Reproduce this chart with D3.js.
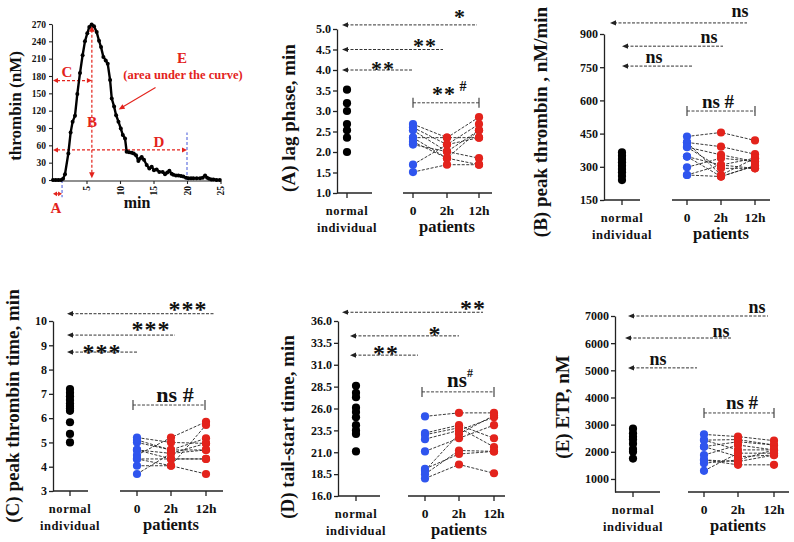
<!DOCTYPE html>
<html><head><meta charset="utf-8">
<script src="https://cdn.jsdelivr.net/npm/d3@7"></script>
<style>
body{margin:0;background:#fff}
text{font-family:"Liberation Serif","Times New Roman",serif;font-weight:bold}
</style>
</head><body>
<svg id="c" width="794" height="542"></svg>
<script>
// ---------- DATA ----------
// thrombin generation curve
const curveTime = [0,0.4,0.8,1.2,1.5,1.79,2.29,2.63,2.93,3.28,
  3.63,4.03,4.42,4.77,5.12,5.42,5.77,6.12,6.52,6.87,
  7.17,7.52,7.87,8.17,8.52,8.77,9.12,9.42,9.77,10.12,
  10.42,10.75,10.99,11.35,11.74,12.05,12.39,12.74,13.0,13.24,
  13.58,13.98,14.38,14.73,15.07,15.47,15.87,16.37,16.72,17.05,
  17.37,17.7,17.96,18.35,18.71,19.1,19.45,19.85,20.2,20.6,
  20.95,21.45,21.95,22.35,22.7,23.0,23.3,23.65,23.95,24.4,24.9];
const curveThrombin = [0,0,0,0,2,10,46,82,101,111,
  149,185,216,240,254,265,269,266,256,241,
  230,213,207,201,173,141,127,112,101,89,
  78,72,49,48,47,46,43,33,37,40,
  35,26,20,23,17,18,14,14,10,13,
  16,11,9,8,8,7,6,4,3,3,
  3,3,3,4,8,4,2,1,1,0,0];
const curveXTicks = [5,10,15,20,25];
const curveYTicks = [0,30,60,90,120,150,180,210,240,270];

const groups = ["normal","0","2h","12h"];

// (A) lag phase, min
const lagTicks = [1.0,1.5,2.0,2.5,3.0,3.5,4.0,4.5,5.0];
const lagNormal = [3.52,3.19,3.0,2.68,2.53,2.35,2.0];
const lag0   = [2.68,2.6,2.53,2.35,2.35,2.18,1.69,1.51,2.25];
const lag2h  = [2.35,2.18,2.01,2.35,1.85,2.01,2.18,1.69,1.85];
const lag12h = [2.85,2.68,1.85,2.35,1.69,2.53,2.35,1.69,2.53];

// (B) peak thrombin, nM/min
const peakTicks = [150,300,450,600,750,900];
const peakNormal = [365,350,335,320,305,290,275,258,240];
const peak0   = [437,410,410,389,389,346,346,298,263,263];
const peak2h  = [455,391,263,354,293,308,256,339,308,256];
const peak12h = [419,357,339,324,293,339,305,324,293,305];

// (C) peak thrombin time, min
const ptTicks = [3,4,5,6,7,8,9,10];
const ptNormal = [7.2,7.05,6.9,6.75,6.6,6.5,6.4,6.3,5.83,5.35,5.0];
const pt0   = [5.2,5.0,4.69,4.69,4.48,4.32,4.32,4.04,3.7,5.1];
const pt2h  = [5.0,4.69,4.55,4.32,5.2,4.32,4.04,4.04,4.55,4.69];
const pt12h = [4.96,5.17,4.69,4.32,5.85,4.32,3.7,5.72,4.96,4.69];

// (D) tail-start time, min
const tsTicks = [16.0,18.5,21.0,23.5,26.0,28.5,31.0,33.5,36.0];
const tsNormal = [28.6,27.8,27.3,26.1,25.6,25.0,24.1,23.5,23.1,21.1];
const ts0   = [25.1,23.2,23.0,22.5,21.1,19.1,18.9,18.5,18.0];
const ts2h  = [25.5,24.1,23.8,23.5,22.6,20.8,23.1,21.2,19.6];
const ts12h = [25.5,22.6,21.6,25.0,24.1,21.1,25.2,21.1,18.6];

// (E) ETP, nM
const etpTicks = [1000,2000,3000,4000,5000,6000,7000];
const etpNormal = [2850,2680,2550,2450,2300,2100,2000,1750];
const etp0   = [2640,2430,2430,2190,2190,1880,1700,1700,1580,1300];
const etp2h  = [2560,2450,2070,2370,1820,2250,1640,1520,1700,1950];
const etp12h = [2410,2250,2070,2250,1880,2070,1880,1520,2070,1950];

// ---------- DRAW ----------
const svg = d3.select("#c");
const RED = "#e3231c", BLUE = "#2f55ee", AX = "#222";

function tri(g,x,y,ang,len,hw,color){
  const bx=x-len*Math.cos(ang), by=y-len*Math.sin(ang);
  const px=-Math.sin(ang)*hw, py=Math.cos(ang)*hw;
  g.append("path").attr("d",`M${x},${y}L${bx+px},${by+py}L${bx-px},${by-py}Z`).attr("fill",color);
}

// ===== Panel 1: thrombin curve =====
(function(){
  const g = svg.append("g");
  const x = d3.scaleLinear().domain([0,25]).range([53,220.5]);
  const y = d3.scaleLinear().domain([0,270]).range([180,24]);
  const ya = g.append("g").attr("transform","translate(52,0)")
    .call(d3.axisLeft(y).tickValues(curveYTicks).tickSize(3).tickSizeOuter(0));
  ya.selectAll("text").attr("font-size","9.5px").attr("fill","#111");
  const xa = g.append("g").attr("transform","translate(0,181)")
    .call(d3.axisBottom(x).tickValues(curveXTicks).tickSize(3).tickSizeOuter(0));
  xa.select(".domain").attr("d","M52,0H221");
  xa.selectAll("text").attr("font-size","9.5px").attr("fill","#111")
    .attr("transform","rotate(-90)").attr("text-anchor","end").attr("x",-5).attr("y",0).attr("dy","0.35em");
  [ya,xa].forEach(a=>{a.selectAll("path,line").attr("stroke",AX).attr("stroke-width",1.1);});

  // annotations (under curve)
  const an = g.append("g");
  const dash = "3,2";
  // C
  an.append("line").attr("x1",x(0)+4).attr("x2",x(5.8)-4).attr("y1",y(172)).attr("y2",y(172))
    .attr("stroke",RED).attr("stroke-width",1.2).attr("stroke-dasharray",dash);
  tri(an,x(0),y(172),Math.PI,5,2.5,RED); tri(an,x(5.8),y(172),0,5,2.5,RED);
  // B
  an.append("line").attr("x1",x(5.8)).attr("x2",x(5.8)).attr("y1",y(267)+4).attr("y2",y(3)-4)
    .attr("stroke",RED).attr("stroke-width",1.2).attr("stroke-dasharray",dash);
  tri(an,x(5.8),y(267),-Math.PI/2,6,2.8,RED); tri(an,x(5.8),y(3),Math.PI/2,6,2.8,RED);
  // D
  an.append("line").attr("x1",x(0)+4).attr("x2",x(20)-4).attr("y1",y(52)).attr("y2",y(52))
    .attr("stroke",RED).attr("stroke-width",1.2).attr("stroke-dasharray",dash);
  tri(an,x(0),y(52),Math.PI,5,2.5,RED); tri(an,x(20),y(52),0,5,2.5,RED);
  // blue markers
  an.append("line").attr("x1",x(20)).attr("x2",x(20)).attr("y1",y(0)).attr("y2",y(82))
    .attr("stroke","#5566dd").attr("stroke-width",1.1).attr("stroke-dasharray","3,2");
  an.append("line").attr("x1",x(1.35)).attr("x2",x(1.35)).attr("y1",y(0)).attr("y2",y(-30))
    .attr("stroke","#5566dd").attr("stroke-width",1.1).attr("stroke-dasharray","3,2");
  // A
  an.append("line").attr("x1",x(0)+3).attr("x2",x(1.35)-3).attr("y1",y(-24)).attr("y2",y(-24))
    .attr("stroke",RED).attr("stroke-width",1.2).attr("stroke-dasharray","2,1.5");
  tri(an,x(0),y(-24),Math.PI,4,2.3,RED); tri(an,x(1.35),y(-24),0,4,2.3,RED);
  // E arrow
  an.append("line").attr("x1",x(15.3)).attr("y1",y(160)).attr("x2",x(9.8)+4).attr("y2",y(122)-2.5)
    .attr("stroke",RED).attr("stroke-width",1.1);
  tri(an,x(9.8),y(122),Math.atan2(y(122)-y(160),x(9.8)-x(15.3)),6,2.6,RED);

  // curve
  const pts = curveTime.map((t,i)=>[t,curveThrombin[i]]);
  g.append("path").attr("d",d3.line().x(d=>x(d[0])).y(d=>y(d[1]))(pts))
    .attr("fill","none").attr("stroke","#000").attr("stroke-width",2.4).attr("stroke-linejoin","round");
  g.selectAll("circle.cp").data(pts).join("circle").attr("class","cp")
    .attr("cx",d=>x(d[0])).attr("cy",d=>y(d[1])).attr("r",2).attr("fill","#000");

  // labels
  const lab = (t,px,py,fs,col,anchor)=>g.append("text").text(t).attr("x",px).attr("y",py)
    .attr("font-size",fs+"px").attr("fill",col||"#111").attr("text-anchor",anchor||"middle");
  lab("C",67,77,15,RED); lab("B",92,127,15,RED); lab("D",159,147,15,RED); lab("A",56,213,15,RED);
  lab("E",182,63,15,RED); lab("(area under the curve)",183,79,12.5,RED);
  lab("min",137,208,16);
  g.append("text").text("thrombin (nM)").attr("transform","translate(15,106) rotate(-90)")
    .attr("text-anchor","middle").attr("dy","0.35em").attr("font-size","17px").attr("fill","#111");
})();

// ===== scatter panels =====
function panel(o){
  const g = svg.append("g");
  const y = d3.scaleLinear().domain(o.yDomain).range([o.yBottom,o.yTop]);
  const x = d3.scaleOrdinal().domain(groups).range(o.xPos);
  const base = o.yBottom;

  const ya = g.append("g").attr("transform",`translate(${o.axisX},0)`)
    .call(d3.axisLeft(y).tickValues(o.ticks).tickFormat(d3.format(o.fmt)).tickSize(4).tickSizeOuter(0));
  ya.selectAll("path,line").attr("stroke",AX).attr("stroke-width",1.3);
  ya.selectAll("text").attr("font-size","12px").attr("fill","#111").attr("x",-6);

  // broken x axis
  const xa = g.append("g");
  xa.append("line").attr("x1",o.axisX).attr("x2",o.nEnd).attr("y1",base).attr("y2",base);
  xa.append("line").attr("x1",o.pStart).attr("x2",o.pEnd).attr("y1",base).attr("y2",base);
  xa.selectAll("line.tk").data(groups).join("line").attr("class","tk")
    .attr("x1",d=>x(d)).attr("x2",d=>x(d)).attr("y1",base).attr("y2",base+5);
  xa.selectAll("line").attr("stroke",AX).attr("stroke-width",1.3);

  g.append("text").text("normal").attr("x",x("normal")).attr("y",base+22).attr("text-anchor","middle")
    .attr("font-size","12.5px").attr("fill","#111").attr("letter-spacing","0.6px");
  g.append("text").text("individual").attr("x",x("normal")).attr("y",base+39).attr("text-anchor","middle")
    .attr("font-size","12.5px").attr("fill","#111").attr("letter-spacing","0.6px");
  g.selectAll("text.gl").data(groups.slice(1)).join("text").attr("class","gl").text(d=>d)
    .attr("x",d=>x(d)).attr("y",base+22).attr("text-anchor","middle").attr("font-size","13.5px").attr("fill","#111");
  g.append("text").text("patients").attr("x",x("2h")).attr("y",base+39).attr("text-anchor","middle")
    .attr("font-size","16.5px").attr("fill","#111");

  // y title
  g.append("text").text(o.title).attr("transform",`translate(${o.tx},${o.ty}) rotate(-90)`)
    .attr("text-anchor","middle").attr("dy","0.35em").attr("font-size",(o.tfs||19)+"px").attr("fill","#111");

  // significance arrows
  o.sig.forEach(s=>{
    const yy = y(s.v);
    g.append("line").attr("x1",s.x1+4).attr("x2",s.x2).attr("y1",yy).attr("y2",yy)
      .attr("stroke","#333").attr("stroke-width",1).attr("stroke-dasharray","3,1.5");
    tri(g,s.x1,yy,Math.PI,6,2.6,"#222");
    g.append("text").text(s.t).attr("x",s.lx).attr("y",s.ly).attr("text-anchor","middle")
      .attr("font-size",s.fs+"px").attr("fill","#111").attr("letter-spacing",s.t[0]==="*"?"1px":"0");
  });

  // bracket
  const b = o.br, by = y(b.v);
  g.append("line").attr("x1",b.x1).attr("x2",b.x2).attr("y1",by).attr("y2",by)
    .attr("stroke","#444").attr("stroke-width",1).attr("stroke-dasharray","3,1.5");
  [b.x1,b.x2].forEach(xx=>g.append("line").attr("x1",xx).attr("x2",xx).attr("y1",by-5).attr("y2",by+5)
    .attr("stroke","#444").attr("stroke-width",1.2));
  g.append("text").text(b.t).attr("x",b.lx).attr("y",b.ly).attr("text-anchor","middle")
    .attr("font-size",b.fs+"px").attr("fill","#111").attr("letter-spacing",b.t[0]==="*"?"1px":"0");
  if(b.sup) g.append("text").text(b.sup).attr("x",b.sx).attr("y",b.sy).attr("text-anchor","middle")
    .attr("font-size",b.sfs+"px").attr("fill","#111");

  // connecting lines
  const line = d3.line().x(d=>x(d[0])).y(d=>y(d[1]));
  o.p0.forEach((v,i)=>{
    g.append("path").attr("d",line([["0",v],["2h",o.p2[i]],["12h",o.p12[i]]]))
      .attr("fill","none").attr("stroke","#222").attr("stroke-width",0.9).attr("stroke-dasharray","3,1.5");
  });
  // dots
  const R = 4.1;
  g.selectAll("circle.n").data(o.normal).join("circle").attr("class","n")
    .attr("cx",x("normal")).attr("cy",d=>y(d)).attr("r",R).attr("fill","#000");
  g.selectAll("circle.a").data(o.p0).join("circle").attr("class","a")
    .attr("cx",x("0")).attr("cy",d=>y(d)).attr("r",R).attr("fill",BLUE);
  g.selectAll("circle.b").data(o.p2).join("circle").attr("class","b")
    .attr("cx",x("2h")).attr("cy",d=>y(d)).attr("r",R).attr("fill",RED);
  g.selectAll("circle.c").data(o.p12).join("circle").attr("class","c")
    .attr("cx",x("12h")).attr("cy",d=>y(d)).attr("r",R).attr("fill",RED);
}

panel({axisX:337, yDomain:[1,5], yBottom:193, yTop:29, ticks:lagTicks, fmt:".1f",
  xPos:[347,413,447,479], nEnd:372, pStart:403, pEnd:492,
  title:"(A) lag phase, min", tx:288, ty:118,
  normal:lagNormal, p0:lag0, p2:lag2h, p12:lag12h,
  sig:[{v:5.1,x1:342,x2:477,t:"*",lx:460,ly:24,fs:22},
       {v:4.5,x1:342,x2:443,t:"**",lx:425,ly:53,fs:22},
       {v:4.0,x1:342,x2:412,t:"**",lx:383,ly:76,fs:22}],
  br:{v:3.2,x1:413,x2:479,t:"**",lx:444,ly:101,fs:22,sup:"#",sx:463,sy:91,sfs:14}});

panel({axisX:604, yDomain:[150,900], yBottom:200, yTop:34, ticks:peakTicks, fmt:"d",
  xPos:[622,687,721,755], nEnd:640, pStart:672, pEnd:770,
  title:"(B) peak thrombin , nM/min", tx:540, ty:122,
  normal:peakNormal, p0:peak0, p2:peak2h, p12:peak12h,
  sig:[{v:950,x1:610,x2:747,t:"ns",lx:740,ly:17,fs:18},
       {v:845,x1:622,x2:723,t:"ns",lx:709,ly:43,fs:18},
       {v:755,x1:622,x2:692,t:"ns",lx:654,ly:63,fs:18}],
  br:{v:552,x1:687,x2:755,t:"ns #",lx:718,ly:108,fs:19}});

panel({axisX:53, yDomain:[3,10], yBottom:491, yTop:321, ticks:ptTicks, fmt:"d",
  xPos:[70,137,171,206], nEnd:88, pStart:120, pEnd:223,
  title:"(C) peak thrombin time, min", tx:12, ty:406,
  normal:ptNormal, p0:pt0, p2:pt2h, p12:pt12h,
  sig:[{v:10.3,x1:67,x2:215,t:"***",lx:188,ly:317,fs:24},
       {v:9.42,x1:67,x2:175,t:"***",lx:151,ly:337,fs:24},
       {v:8.72,x1:67,x2:138,t:"***",lx:102,ly:360,fs:24}],
  br:{v:6.54,x1:133,x2:205,t:"ns #",lx:175,ly:402,fs:22}});

panel({axisX:338, yDomain:[16,36], yBottom:496, yTop:321, ticks:tsTicks, fmt:".1f",
  xPos:[356,425,459,494], nEnd:380, pStart:408, pEnd:505,
  title:"(D) tail-start time, min", tx:287, ty:427,
  normal:tsNormal, p0:ts0, p2:ts2h, p12:ts12h,
  sig:[{v:37.0,x1:342,x2:483,t:"**",lx:473,ly:316,fs:24},
       {v:34.3,x1:350,x2:459,t:"*",lx:435,ly:342,fs:24},
       {v:32.1,x1:350,x2:418,t:"**",lx:386,ly:361,fs:24}],
  br:{v:27.9,x1:422,x2:494,t:"ns",lx:457,ly:387,fs:21,sup:"#",sx:470,sy:377,sfs:12}});

panel({axisX:615, yDomain:[520,7000], yBottom:492, yTop:316, ticks:etpTicks, fmt:"d",
  xPos:[633,704,738,774], nEnd:660, pStart:688, pEnd:789,
  title:"(E) ETP, nM", tx:562, ty:407,
  normal:etpNormal, p0:etp0, p2:etp2h, p12:etp12h,
  sig:[{v:7000,x1:628,x2:768,t:"ns",lx:757,ly:313,fs:18},
       {v:6190,x1:625,x2:732,t:"ns",lx:721,ly:337,fs:18},
       {v:5090,x1:628,x2:697,t:"ns",lx:658,ly:365,fs:18}],
  br:{v:3430,x1:704,x2:774,t:"ns #",lx:742,ly:409,fs:19}});
</script>
</body></html>
